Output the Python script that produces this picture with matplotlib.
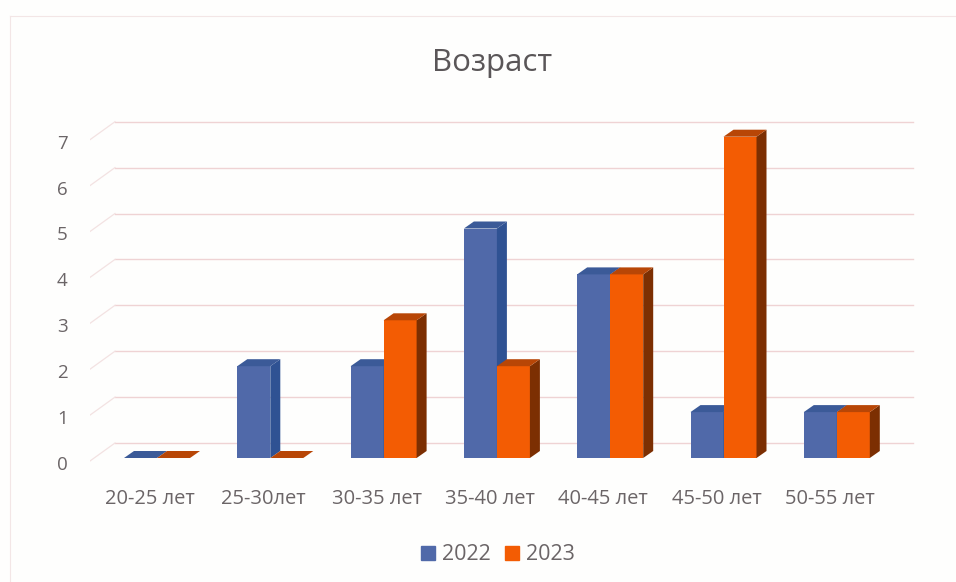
import matplotlib
matplotlib.use('Agg')
import matplotlib.pyplot as plt
from matplotlib.patches import Polygon
from matplotlib.transforms import ScaledTranslation

plt.rcParams['font.family'] = ['Open Sans', 'DejaVu Sans']

categories = ['20-25 лет', '25-30лет', '30-35 лет', '35-40 лет', '40-45 лет', '45-50 лет', '50-55 лет']
values_2022 = [0, 2, 2, 5, 4, 1, 1]
values_2023 = [0, 0, 3, 2, 4, 7, 1]
yticks = [0, 1, 2, 3, 4, 5, 6, 7]

W, H = 956, 582
PX_X = 113.3   # pixels per category
PX_Y = 45.9    # pixels per unit
X0, Y0 = 157, 458   # first group centre, baseline
DX, DY = 10 / PX_X, 7 / PX_Y   # depth of the 3d bars in data units
BAR = 33 / PX_X

fig = plt.figure(figsize=(W / 100, H / 100), dpi=100, facecolor='#fefefd')
left, right, top, bottom = 90, 925, 100, 478
ax = fig.add_axes([left / W, 1 - bottom / H, (right - left) / W, (bottom - top) / H])
ax.set_xlim((left - X0) / PX_X, (right - X0) / PX_X)
ax.set_ylim((Y0 - bottom) / PX_Y, (Y0 - top) / PX_Y)
ax.patch.set_alpha(0)
for s in ax.spines.values():
    s.set_visible(False)

# outer frame of the scanned chart
fig.add_artist(plt.Line2D([10 / W, 10 / W], [0, 1 - 16 / H], color='#f3e6e6', lw=0.8))
fig.add_artist(plt.Line2D([10 / W, 1], [1 - 16 / H, 1 - 16 / H], color='#f3e6e6', lw=0.8))

# gridlines on the back wall and the slanted side wall
grid_c = '#efd3d4'
x_start = ax.get_xlim()[0]
wall_dx = 25 / PX_X
back_dy = 15 / PX_Y
x_end = (913 - X0) / PX_X
for v in yticks:
    ax.plot([x_start + wall_dx, x_end], [v + back_dy, v + back_dy], color=grid_c, lw=1.0, zorder=1)
    ax.plot([x_start, x_start + wall_dx], [v - 3 / PX_Y, v + back_dy], color='#f3e2e2', lw=0.9, zorder=1)


def bar3d(x, v, face, side, topc, z):
    ax.bar(x, v, width=BAR, align='edge', color=face, linewidth=0, zorder=z)
    ax.add_patch(Polygon([(x + BAR, 0), (x + BAR + DX, DY), (x + BAR + DX, v + DY), (x + BAR, v)],
                         facecolor=side, edgecolor='none', zorder=z))
    ax.add_patch(Polygon([(x, v), (x + DX, v + DY), (x + BAR + DX, v + DY), (x + BAR, v)],
                         facecolor=topc, edgecolor='none', zorder=z))


for i in range(len(categories)):
    bar3d(i - BAR, values_2022[i], '#5069a9', '#2f5293', '#3b5a98', 3)
    bar3d(i, values_2023[i], '#f35c03', '#7c2f02', '#b84606', 4)

ax.set_xticks(range(len(categories)))
ax.set_xticklabels(categories, fontsize=14.5, color='#6b6567')
ax.tick_params(axis='x', length=0, pad=8)
xshift = ScaledTranslation(-7 / 100, 0, fig.dpi_scale_trans)
for lab in ax.get_xticklabels():
    lab.set_transform(lab.get_transform() + xshift)
ax.set_yticks(yticks)
ax.set_yticklabels([str(v) for v in yticks], fontsize=13.5, color='#6b6567')
ax.tick_params(axis='y', length=0, pad=16)
yshift = ScaledTranslation(0, -5 / 100, fig.dpi_scale_trans)
for lab in ax.get_yticklabels():
    lab.set_transform(lab.get_transform() + yshift)

fig.text(492 / W, 1 - 63 / H, 'Возраст', fontsize=22.5, color='#5a5658', ha='center', va='center')

# legend
handles = [plt.Rectangle((0, 0), 1, 1, color='#5069a9'), plt.Rectangle((0, 0), 1, 1, color='#f35c03')]
fig.legend(handles, ['2022', '2023'], loc='center', bbox_to_anchor=(498 / W, 1 - 555 / H), ncol=2, frameon=False,
           fontsize=15.5, labelcolor='#6b6567', handlelength=0.65, handleheight=0.65, handletextpad=0.3,
           columnspacing=0.7)

fig.savefig('out.png', dpi=100, facecolor=fig.get_facecolor())
